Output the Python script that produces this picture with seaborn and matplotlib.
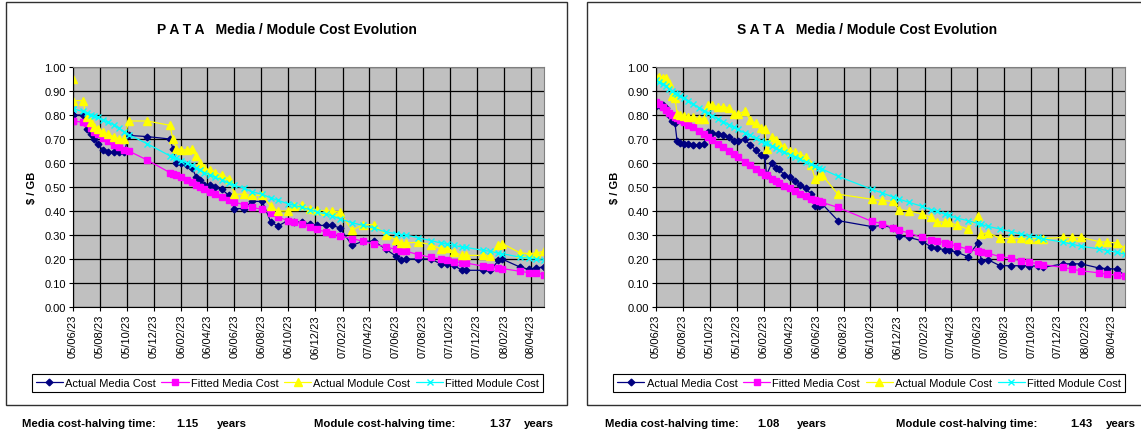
import matplotlib
matplotlib.use('Agg')
import matplotlib.pyplot as plt
from matplotlib.patches import Rectangle
from matplotlib.ticker import MultipleLocator, FormatStrFormatter
import pandas as pd
import seaborn as sns

# ---------------------------------------------------------------- data
TICK_LABELS = ['05/06/23', '05/08/23', '05/10/23', '05/12/23', '06/02/23', '06/04/23',
               '06/06/23', '06/08/23', '06/10/23', '06/12/23', '07/02/23', '07/04/23',
               '07/06/23', '07/08/23', '07/10/23', '07/12/23', '08/02/23', '08/04/23']

SERIES_NAMES = ['Actual Media Cost', 'Fitted Media Cost', 'Actual Module Cost', 'Fitted Module Cost']

# PATA panel
PATA_DATES = ['2005-06-23', '2005-06-23', '2005-07-15', '2005-07-24', '2005-08-03', '2005-08-10',
              '2005-08-18', '2005-08-29', '2005-09-10', '2005-09-23', '2005-10-05', '2005-10-17',
              '2005-10-27', '2005-12-08',
              '2006-01-28', '2006-02-04', '2006-02-12', '2006-02-23', '2006-03-07', '2006-03-19',
              '2006-03-29', '2006-04-07', '2006-04-16', '2006-04-29', '2006-05-11', '2006-05-26',
              '2006-06-10', '2006-06-23', '2006-07-15', '2006-08-01', '2006-08-25', '2006-09-13',
              '2006-09-29', '2006-10-22', '2006-11-04', '2006-11-23', '2006-12-11', '2006-12-26',
              '2007-01-16', '2007-01-29', '2007-02-16', '2007-03-16', '2007-04-10', '2007-05-05',
              '2007-06-01', '2007-06-23', '2007-07-05', '2007-07-17', '2007-08-13', '2007-09-10',
              '2007-10-02', '2007-10-17', '2007-11-01', '2007-11-19', '2007-11-29',
              '2008-01-07', '2008-01-23', '2008-02-10', '2008-02-19', '2008-03-29', '2008-04-19',
              '2008-05-05', '2008-05-23']
PATA_MEDIA = [0.80, 0.80, 0.80, 0.74, 0.72, 0.70, 0.68, 0.655, 0.645, 0.645, 0.645, 0.645, 0.715, 0.71,
              0.70, 0.66, 0.60, 0.60, 0.59, 0.58, 0.54, 0.53, 0.51, 0.51, 0.50, 0.49, 0.465, 0.41,
              0.41, 0.44, 0.44, 0.355, 0.337, 0.36, 0.354, 0.354, 0.345, 0.34,
              0.34, 0.34, 0.33, 0.257, 0.274, 0.274, 0.24, 0.212, 0.194, 0.20, 0.20, 0.20, 0.18,
              0.18, 0.174, 0.153, 0.153,
              0.153, 0.153, 0.194, 0.199, 0.167, 0.157, 0.163, 0.167]
PATA_MEDIA_FIT = [0.775, 0.775, 0.77, 0.765, 0.745, 0.73, 0.72, 0.705, 0.69, 0.675, 0.665, 0.655, 0.65, 0.612,
                  0.56, 0.555, 0.55, 0.54, 0.53, 0.52, 0.51, 0.50, 0.49, 0.48, 0.47, 0.46, 0.445, 0.437,
                  0.426, 0.415, 0.407, 0.39, 0.375, 0.36, 0.355, 0.347, 0.333, 0.324,
                  0.312, 0.305, 0.296, 0.285, 0.274, 0.262, 0.25, 0.24, 0.235, 0.232, 0.218, 0.207,
                  0.20, 0.195, 0.188, 0.185, 0.183,
                  0.17, 0.167, 0.162, 0.16, 0.149, 0.143, 0.142, 0.135]
PATA_MODULE = [0.95, 0.86, 0.86, 0.79, 0.77, 0.75, 0.74, 0.73, 0.72, 0.71, 0.70, 0.70, 0.775, 0.775,
               0.757, 0.70, 0.66, 0.655, 0.655, 0.66, 0.63, 0.60, 0.58, 0.57, 0.56, 0.55, 0.535, 0.47,
               0.47, 0.465, 0.465, 0.42, 0.40, 0.40, 0.42, 0.424, 0.41, 0.405,
               0.40, 0.40, 0.396, 0.32, 0.343, 0.343, 0.30, 0.28, 0.267, 0.267, 0.27, 0.26, 0.243,
               0.246, 0.23, 0.215, 0.215,
               0.215, 0.212, 0.26, 0.264, 0.226, 0.222, 0.225, 0.232]
PATA_MODULE_FIT = [0.826, 0.826, 0.815, 0.81, 0.80, 0.795, 0.79, 0.78, 0.77, 0.76, 0.745, 0.73, 0.718, 0.68,
                   0.63, 0.625, 0.62, 0.61, 0.60, 0.59, 0.58, 0.57, 0.56, 0.55, 0.54, 0.53, 0.515, 0.507,
                   0.495, 0.48, 0.47, 0.454, 0.445, 0.43, 0.424, 0.415, 0.405, 0.396,
                   0.388, 0.38, 0.368, 0.351, 0.34, 0.328, 0.312, 0.306, 0.302, 0.30, 0.288, 0.277,
                   0.267, 0.262, 0.257, 0.25, 0.248,
                   0.236, 0.232, 0.224, 0.222, 0.208, 0.203, 0.20, 0.194]
PATA_MEDIA_HALVING = '1.15'
PATA_MODULE_HALVING = '1.37'

# SATA panel
SATA_DATES = ['2005-06-23', '2005-06-30', '2005-07-08', '2005-07-15', '2005-07-23', '2005-07-29',
              '2005-08-05', '2005-08-10', '2005-08-16', '2005-08-26', '2005-09-04', '2005-09-16',
              '2005-09-29', '2005-10-10', '2005-10-18', '2005-10-29', '2005-11-10', '2005-11-23',
              '2005-12-05', '2005-12-16', '2005-12-26',
              '2006-01-10', '2006-01-23', '2006-02-04', '2006-02-16', '2006-02-25', '2006-03-01',
              '2006-03-13', '2006-03-22', '2006-03-29', '2006-04-10', '2006-04-23', '2006-05-05',
              '2006-05-17', '2006-05-29', '2006-06-10', '2006-06-19', '2006-06-29', '2006-07-05',
              '2006-08-10', '2006-10-26', '2006-11-19', '2006-12-14', '2006-12-26',
              '2007-01-19', '2007-02-16', '2007-03-10', '2007-03-22', '2007-04-10', '2007-04-20',
              '2007-05-08', '2007-06-01', '2007-06-24', '2007-07-02', '2007-07-17', '2007-08-13',
              '2007-09-07', '2007-09-29', '2007-10-17', '2007-11-07', '2007-11-19',
              '2008-01-04', '2008-01-23', '2008-02-13', '2008-03-26', '2008-04-13', '2008-05-05',
              '2008-05-23']
SATA_MEDIA = [0.836, 0.84, 0.843, 0.83, 0.80, 0.774, 0.767, 0.69, 0.683, 0.68, 0.68, 0.675, 0.675,
              0.68, 0.73, 0.725, 0.72, 0.715, 0.71, 0.69, 0.69,
              0.70, 0.675, 0.655, 0.632, 0.628, 0.55, 0.60, 0.58, 0.576, 0.55, 0.54, 0.525, 0.51,
              0.495, 0.47, 0.42, 0.42, 0.43, 0.36, 0.335, 0.34, 0.33, 0.297,
              0.29, 0.276, 0.25, 0.244, 0.239, 0.236, 0.228, 0.21, 0.267, 0.193, 0.197, 0.172,
              0.172, 0.172, 0.172, 0.17, 0.165,
              0.18, 0.18, 0.18, 0.162, 0.16, 0.158, 0.13]
SATA_MEDIA_FIT = [0.855, 0.845, 0.835, 0.822, 0.81, 0.80, 0.793, 0.788, 0.78, 0.77, 0.76, 0.748, 0.735,
                  0.722, 0.71, 0.697, 0.68, 0.665, 0.65, 0.638, 0.625,
                  0.605, 0.59, 0.576, 0.562, 0.552, 0.548, 0.535, 0.526, 0.518, 0.505, 0.495, 0.484,
                  0.472, 0.462, 0.452, 0.446, 0.44, 0.436, 0.415, 0.357, 0.347, 0.33, 0.32,
                  0.308, 0.29, 0.28, 0.276, 0.267, 0.262, 0.253, 0.242, 0.232, 0.228, 0.224, 0.21,
                  0.203, 0.193, 0.188, 0.18, 0.176,
                  0.165, 0.158, 0.151, 0.142, 0.136, 0.133, 0.128]
SATA_MODULE = [0.955, 0.96, 0.955, 0.955, 0.935, 0.88, 0.87, 0.805, 0.80, 0.795, 0.79, 0.79, 0.785,
               0.785, 0.843, 0.84, 0.835, 0.835, 0.83, 0.805, 0.805,
               0.815, 0.78, 0.765, 0.745, 0.74, 0.66, 0.71, 0.695, 0.68, 0.665, 0.652, 0.645, 0.635,
               0.625, 0.59, 0.535, 0.545, 0.55, 0.47, 0.449, 0.444, 0.44, 0.406,
               0.40, 0.388, 0.374, 0.356, 0.353, 0.353, 0.34, 0.325, 0.38, 0.304, 0.31, 0.286,
               0.286, 0.286, 0.285, 0.285, 0.285,
               0.29, 0.29, 0.29, 0.272, 0.27, 0.267, 0.245]
SATA_MODULE_FIT = [0.945, 0.937, 0.928, 0.92, 0.91, 0.902, 0.893, 0.888, 0.88, 0.87, 0.86, 0.845, 0.83,
                   0.818, 0.808, 0.797, 0.785, 0.772, 0.76, 0.75, 0.74,
                   0.726, 0.715, 0.703, 0.692, 0.685, 0.682, 0.672, 0.663, 0.655, 0.645, 0.635, 0.625,
                   0.615, 0.605, 0.595, 0.587, 0.58, 0.575, 0.545, 0.49, 0.475, 0.458, 0.45,
                   0.436, 0.42, 0.405, 0.40, 0.387, 0.382, 0.37, 0.36, 0.348, 0.344, 0.336, 0.325,
                   0.314, 0.304, 0.297, 0.29, 0.284,
                   0.27, 0.262, 0.253, 0.242, 0.235, 0.228, 0.22]
SATA_MEDIA_HALVING = '1.08'
SATA_MODULE_HALVING = '1.43'

# ---------------------------------------------------------------- style
sns.set_style('ticks')
plt.rcParams['font.family'] = ['Liberation Sans', 'DejaVu Sans']
plt.rcParams['text.color'] = 'black'
plt.rcParams['axes.labelcolor'] = 'black'
plt.rcParams['xtick.color'] = 'black'
plt.rcParams['ytick.color'] = 'black'

W, H = 1141, 435
fig = plt.figure(figsize=(W / 100, H / 100), dpi=100)

STYLES = [
    dict(color='#000080', marker='D', markersize=3.4),
    dict(color='#FF00FF', marker='s', markersize=4.8),
    dict(color='#FFFF00', marker='^', markersize=5.6),
    dict(color='#00FFFF', marker='x', markersize=4.6),
]


def fx(px):
    return px / W


def fy(py):
    return 1 - py / H


def draw_panel(frame_x0, ax_x0, ax_x1, title, dates, series, legend_x, halving):
    # chart frame
    fig.add_artist(Rectangle((fx(frame_x0), fy(406)), fx(561), 403 / H,
                             transform=fig.transFigure, fill=False,
                             edgecolor='#303030', linewidth=1.0))
    ax = fig.add_axes([fx(ax_x0), fy(308), fx(ax_x1 - ax_x0), 240 / H])
    x = pd.to_datetime(dates)
    for name, vals, st in zip(SERIES_NAMES, series, STYLES):
        sns.lineplot(x=x, y=vals, ax=ax, label=name, sort=False, estimator=None,
                     color=st['color'], marker=st['marker'], markersize=st['markersize'],
                     markeredgecolor=st['color'], markerfacecolor=st['color'],
                     markeredgewidth=1.0, linewidth=0.9)

    ax.set_facecolor('#c0c0c0')
    ax.set_xlim(x[0], x[-1])
    ax.set_ylim(0, 1.0)
    ax.yaxis.set_major_locator(MultipleLocator(0.1))
    ax.yaxis.set_major_formatter(FormatStrFormatter('%.2f'))
    ticks = pd.to_datetime(TICK_LABELS, format='%y/%m/%d')
    ax.set_xticks(ticks)
    ax.set_xticklabels(TICK_LABELS, rotation=90, fontsize=8)
    ax.tick_params(axis='y', labelsize=8)
    ax.tick_params(direction='out', length=3, width=0.8, pad=2)
    ax.grid(True, color='black', linewidth=0.9)
    ax.set_axisbelow(True)
    for side in ['left', 'bottom']:
        ax.spines[side].set_color('black')
        ax.spines[side].set_linewidth(0.8)
    for side in ['top', 'right']:
        ax.spines[side].set_visible(True)
        ax.spines[side].set_color('#808080')
        ax.spines[side].set_linewidth(0.8)
    ax.set_xlabel('')
    ax.set_ylabel('$ / GB', fontsize=8, fontweight='bold')
    ax.yaxis.set_label_coords(-36 / (ax_x1 - ax_x0), 0.5)

    fig.text(fx(frame_x0 + 280.5), fy(30.5), title, ha='center', va='center',
             fontsize=10, fontweight='bold')

    handles, labels = ax.get_legend_handles_labels()
    ax.get_legend().remove()
    leg = fig.legend(handles, labels, loc='center', bbox_to_anchor=(fx(legend_x), fy(384)),
                     ncol=4, frameon=True, fancybox=False, edgecolor='black', framealpha=1,
                     fontsize=8, handlelength=2.45, handletextpad=0.2, columnspacing=0.5,
                     borderpad=0.35, borderaxespad=0)
    leg.get_frame().set_linewidth(0.8)

    # halving-time captions
    (x_m, x_mv, x_my), (x_d, x_dv, x_dy) = halving[0], halving[1]
    media_val, module_val = halving[2], halving[3]
    for xp, s in [(x_m, 'Media cost-halving time:'), (x_mv, media_val), (x_my, 'years'),
                  (x_d, 'Module cost-halving time:'), (x_dv, module_val), (x_dy, 'years')]:
        fig.text(fx(xp), fy(424), s, ha='left', va='center', fontsize=8.2, fontweight='bold')
    return ax


draw_panel(6, 73, 544, 'P A T A   Media / Module Cost Evolution', PATA_DATES,
           [PATA_MEDIA, PATA_MEDIA_FIT, PATA_MODULE, PATA_MODULE_FIT], 287.5,
           [(22, 176, 217), (314, 489, 524), PATA_MEDIA_HALVING, PATA_MODULE_HALVING])
draw_panel(587, 656, 1125, 'S A T A   Media / Module Cost Evolution', SATA_DATES,
           [SATA_MEDIA, SATA_MEDIA_FIT, SATA_MODULE, SATA_MODULE_FIT], 869,
           [(605, 757, 797), (896, 1070, 1106), SATA_MEDIA_HALVING, SATA_MODULE_HALVING])

fig.savefig('out.png', dpi=100)
